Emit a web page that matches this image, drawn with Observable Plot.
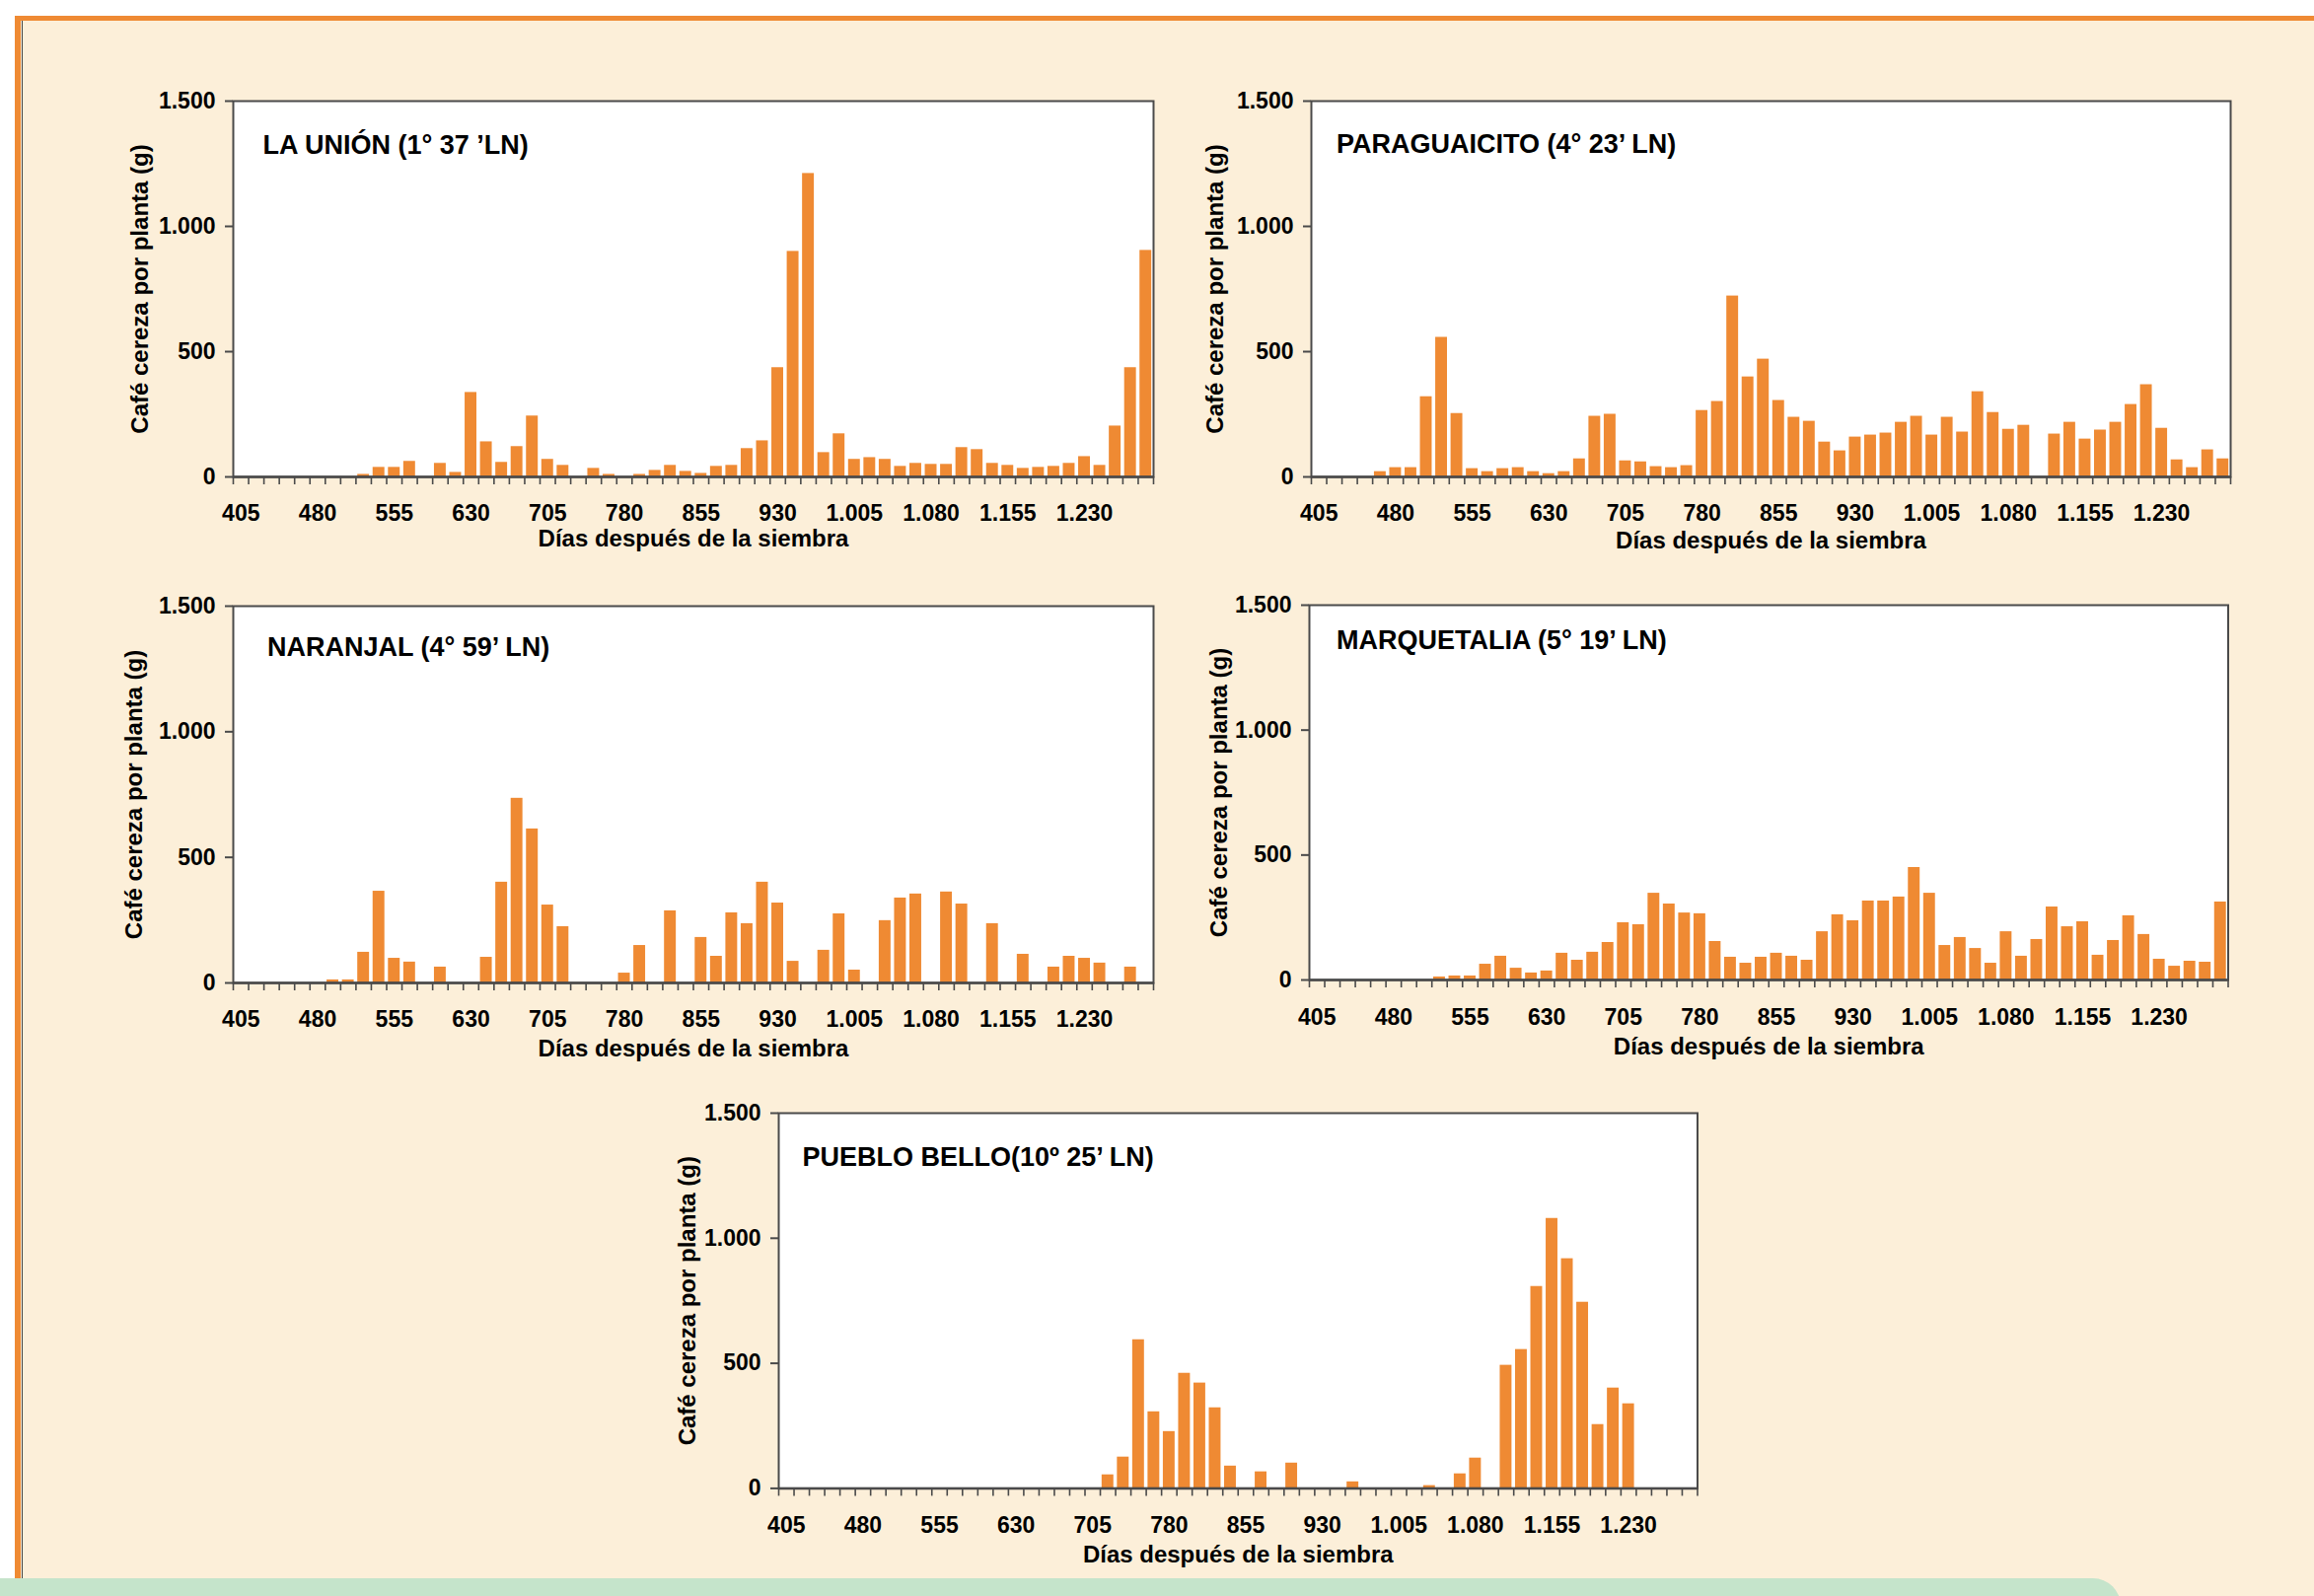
<!DOCTYPE html>
<html><head><meta charset="utf-8">
<script src="https://cdn.jsdelivr.net/npm/d3@7"></script>
<script src="https://cdn.jsdelivr.net/npm/@observablehq/plot@0.6"></script>
<style>
html,body{margin:0;padding:0;width:2346px;height:1618px;overflow:hidden;background:#fff;font-family:"Liberation Sans",Arial,sans-serif;}
#page{position:relative;width:2346px;height:1618px;}
.abs{position:absolute;}
</style></head><body><div id="page">
<div class="abs" style="left:15px;top:16px;width:2331px;height:1602px;background:#fcefd9"></div>
<div class="abs" style="left:15px;top:16px;width:2331px;height:5px;background:#ef8a33"></div>
<div class="abs" style="left:15px;top:16px;width:6px;height:1584px;background:#ef8a33"></div>
<div class="abs" style="left:22px;top:21px;width:1px;height:1579px;background:#444"></div>
<div class="abs" style="left:0;top:1600px;width:2150px;height:40px;background:#c5e4cb;border-top-right-radius:28px"></div>
</div>
<script>
// Days after sowing (one bar every 15 days)
const days = [405,420,435,450,465,480,495,510,525,540,555,570,585,600,615,630,645,660,675,690,
  705,720,735,750,765,780,795,810,825,840,855,870,885,900,915,930,945,960,975,990,
  1005,1020,1035,1050,1065,1080,1095,1110,1125,1140,1155,1170,1185,1200,1215,1230,1245,1260,1275,1290];
const labelDays = [405,480,555,630,705,780,855,930,1005,1080,1155,1230];
const yTicks = [0,500,1000,1500];

const titleLaUnion = "LA UNIÓN (1° 37 ’LN)";
const titleParaguaicito = "PARAGUAICITO (4° 23’ LN)";
const titleNaranjal = "NARANJAL (4° 59’ LN)";
const titleMarquetalia = "MARQUETALIA (5° 19’ LN)";
const titlePuebloBello = "PUEBLO BELLO(10º 25’ LN)";

const laUnion = [0,0,0,0,0,0,0,0,10,38,38,62,0,54,18,337,140,58,121,243,
  70,46,0,34,10,0,10,26,46,22,14,42,46,113,144,436,900,1211,97,172,
  70,77,70,42,54,50,50,117,109,54,46,34,38,42,54,81,46,203,436,904];
const paraguaicito = [0,0,0,0,21,37,37,320,557,253,33,21,33,37,21,13,21,72,242,250,
  64,60,41,37,45,265,301,722,399,470,305,238,222,139,104,159,167,175,218,242,
  167,238,179,340,257,190,206,0,171,218,151,187,218,289,368,194,68,37,108,72];
const naranjal = [0,0,0,0,0,0,12,12,122,365,98,83,0,63,0,0,102,401,735,613,
  310,224,0,0,0,39,149,0,287,0,181,106,279,236,401,318,86,0,130,275,
  51,0,248,338,354,0,362,314,0,236,0,114,0,63,106,98,79,0,63,0];
const marquetalia = [0,0,0,0,0,0,0,0,12,16,16,63,95,47,28,36,107,79,111,150,
  229,221,347,304,268,265,154,91,67,91,107,95,79,193,261,237,316,316,332,450,
  347,138,170,126,67,193,95,162,292,213,233,99,158,257,182,83,55,75,71,312];
const puebloBello = [0,0,0,0,0,0,0,0,0,0,0,0,0,0,0,0,0,0,0,0,
  0,54,125,594,306,227,460,421,322,89,0,66,0,101,0,0,0,26,0,0,
  0,0,11,0,58,121,0,492,555,807,1079,918,744,255,401,338,0,0,0,0];

const xTitle = "Días después de la siembra";
const yTitle = "Café cereza por planta (g)";

const fmt = d => d3.format(",")(d).replace(/,/g, ".");
const boundaries = days.map(d => d - 7.5).concat([days[days.length - 1] + 7.5]);
const FONT = '"Liberation Sans", Arial, Helvetica, sans-serif';
const AXIS = "#4a4a4a";
const BAR = "#ef8a33";

function panel(title, values, f) {
  const data = days.map((day, i) => ({day, value: values[i]})).filter(d => d.value > 0);
  const mL = 150, mR = 14, mT = 14, mB = 100;
  const chart = Plot.plot({
    width: mL + f.w + mR, height: mT + f.h + mB,
    marginLeft: mL, marginRight: mR, marginTop: mT, marginBottom: mB,
    x: {domain: [boundaries[0], boundaries[boundaries.length - 1]]},
    y: {domain: [0, 1500]},
    style: {background: "transparent", fontFamily: FONT, color: "#000", overflow: "visible"},
    marks: [
      Plot.frame({fill: "white", stroke: null}),
      Plot.rectY(data, {x1: d => d.day - 7.5, x2: d => d.day + 7.5, y: "value", fill: BAR, insetLeft: 1.8, insetRight: 1.8}),
      Plot.frame({stroke: AXIS, strokeWidth: 2}),
      Plot.ruleY([0], {stroke: AXIS, strokeWidth: 2.5}),
      Plot.axisY({ticks: yTicks, tickFormat: fmt, tickSize: 8, tickPadding: 10, fontSize: 23, fontWeight: "bold", stroke: AXIS, strokeWidth: 2, label: null}),
      Plot.axisX({ticks: boundaries, tickSize: 8, tickFormat: () => "", stroke: AXIS, strokeWidth: 1.6, label: null}),
      Plot.axisX({ticks: labelDays, tickSize: 0, tickPadding: f.xp, tickFormat: fmt, fontSize: 23, fontWeight: "bold", label: null}),
      Plot.text([title], {frameAnchor: "top-left", dx: f.tdx, dy: f.tdy, textAnchor: "start", lineAnchor: "bottom", fontSize: 27, fontWeight: "bold", fill: "#000"}),
      Plot.text([xTitle], {frameAnchor: "bottom", dy: f.xdy, textAnchor: "middle", lineAnchor: "bottom", fontSize: 24, fontWeight: "bold", fill: "#000"}),
      Plot.text([yTitle], {frameAnchor: "left", dx: f.ydx, rotate: -90, textAnchor: "middle", lineAnchor: "middle", fontSize: 24, fontWeight: "bold", fill: "#000"})
    ]
  });
  chart.style.position = "absolute";
  chart.style.left = (f.x - mL) + "px";
  chart.style.top = (f.y - mT) + "px";
  document.getElementById("page").appendChild(chart);
}

panel(titleLaUnion, laUnion, {x: 236, y: 102, w: 933, h: 381, tdx: 30, tdy: 53, ydx: -94, xdy: 70, xp: 28});
panel(titleParaguaicito, paraguaicito, {x: 1329, y: 102, w: 932, h: 381, tdx: 25.5, tdy: 52.5, ydx: -97, xdy: 72, xp: 28});
panel(titleNaranjal, naranjal, {x: 236, y: 614.3, w: 933, h: 382, tdx: 34.5, tdy: 50, ydx: -100, xdy: 74.5, xp: 28});
panel(titleMarquetalia, marquetalia, {x: 1326.5, y: 613, w: 931.5, h: 380, tdx: 27.5, tdy: 44.5, ydx: -91, xdy: 75.5, xp: 29});
panel(titlePuebloBello, puebloBello, {x: 789, y: 1128.3, w: 931.5, h: 380.4, tdx: 24, tdy: 54, ydx: -92, xdy: 75.5, xp: 29});
</script>
</body></html>
